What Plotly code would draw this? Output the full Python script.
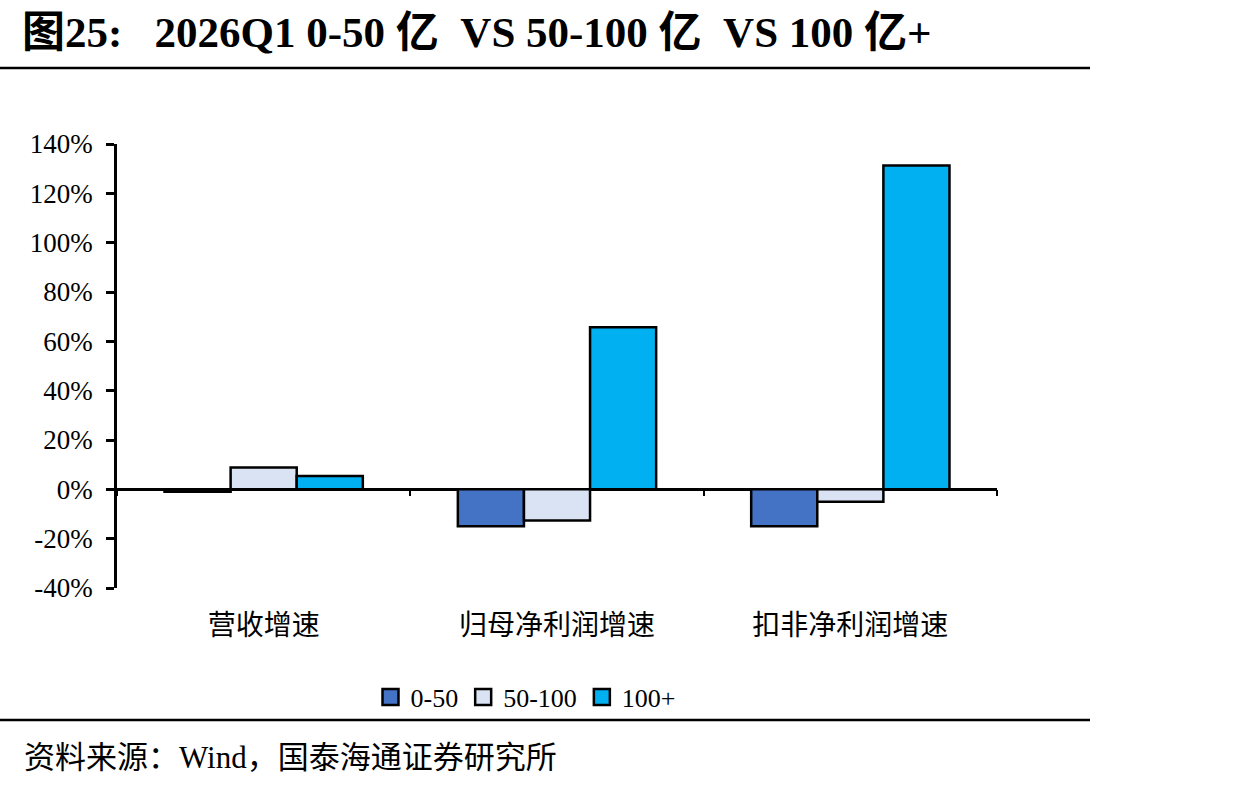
import plotly.graph_objects as go

categories = ["营收增速", "归母净利润增速", "扣非净利润增速"]
series_names = ["0-50", "50-100", "100+"]
v_0_50 = [-1.0, -15.0, -15.0]
v_50_100 = [8.9, -12.6, -5.0]
v_100_plus = [5.4, 65.7, 131.3]
colors = ["#4472C4", "#DAE3F3", "#00B0F0"]
y_ticks = [-40, -20, 0, 20, 40, 60, 80, 100, 120, 140]
y_tick_labels = [f"{v}%" for v in y_ticks]

NB = "\u00a0"
title_text = ("图25:" + NB * 3 + "2026Q1 0-50 亿" + NB + " VS 50-100 亿" + NB
              + " VS 100 亿+")
source_text = "资料来源：Wind，国泰海通证券研究所"

SERIF = "Times New Roman, Liberation Serif, Noto Sans CJK SC, serif"

W, H = 1248, 788
L, R, T, B = 117, 251, 144, 200
ymin, ymax = y_ticks[0], y_ticks[-1]
plot_w = W - L - R
plot_h = H - T - B

fig = go.Figure()
for name, vals, col in zip(series_names, [v_0_50, v_50_100, v_100_plus], colors):
    fig.add_trace(go.Bar(
        x=categories, y=vals, name=name, showlegend=False,
        marker=dict(color=col, line=dict(color="black", width=2.5)),
    ))
# legend proxies (square swatches)
for name, col in zip(series_names, colors):
    fig.add_trace(go.Scatter(
        x=[None], y=[None], name=name, mode="markers",
        marker=dict(symbol="square", size=16, color=col, line=dict(color="black", width=2.5)),
    ))

def px_x(p):
    return (p - L) / plot_w

def px_y(p):
    return (H - B - p) / plot_h

fig.update_layout(
    width=W, height=H,
    margin=dict(l=L, r=R, t=T, b=B),
    paper_bgcolor="white", plot_bgcolor="white",
    barmode="group", bargap=0.324, bargroupgap=0,
    font=dict(family=SERIF, color="black"),
    showlegend=True,
    legend=dict(
        orientation="h", x=px_x(526), xanchor="center", y=px_y(697), yanchor="middle",
        font=dict(size=26, family=SERIF), itemwidth=30, traceorder="normal",
        bgcolor="rgba(0,0,0,0)", itemsizing="trace",
    ),
    xaxis=dict(
        type="category", showline=False, showgrid=False, zeroline=False,
        ticks="", tickfont=dict(size=28, family=SERIF), ticklabelstandoff=18,
    ),
    xaxis2=dict(
        overlaying="x", anchor="free", position=(0 - ymin) / (ymax - ymin),
        range=[-0.5, len(categories) - 0.5], tickvals=[i - 0.5 for i in range(len(categories) + 1)],
        ticks="outside", ticklen=6, tickwidth=2, tickcolor="black",
        showticklabels=False, showline=False, showgrid=False, zeroline=False,
    ),
    yaxis=dict(
        range=[ymin, ymax], tickmode="array", tickvals=y_ticks, ticktext=y_tick_labels,
        showline=True, linecolor="black", linewidth=2.5,
        ticks="outside", ticklen=8, tickwidth=2.5, tickcolor="black",
        showgrid=False, zeroline=True, zerolinecolor="black", zerolinewidth=2.5,
        tickfont=dict(size=27, family=SERIF), ticklabelstandoff=8,
    ),
    title=dict(
        text="<b>" + title_text + "</b>", xref="container", x=22 / W, xanchor="left",
        yref="container", y=1 - 32 / H, yanchor="middle",
        font=dict(size=43, family=SERIF, color="black"),
    ),
    shapes=[
        dict(type="line", xref="paper", yref="paper", x0=px_x(0), x1=px_x(1090),
             y0=px_y(68), y1=px_y(68), line=dict(color="black", width=2.5)),
        dict(type="line", xref="paper", yref="paper", x0=px_x(0), x1=px_x(1090),
             y0=px_y(720), y1=px_y(720), line=dict(color="black", width=2.5)),
    ],
    annotations=[
        dict(text=source_text, xref="paper", yref="paper", x=px_x(22), xanchor="left",
             y=px_y(757), yanchor="middle", showarrow=False,
             font=dict(size=31, family=SERIF, color="black")),
    ],
)

# invisible trace so xaxis2 renders
fig.add_trace(go.Scatter(x=[0], y=[0], xaxis="x2", mode="markers",
                         marker=dict(opacity=0), showlegend=False, hoverinfo="skip"))

fig.write_html("out.html")
